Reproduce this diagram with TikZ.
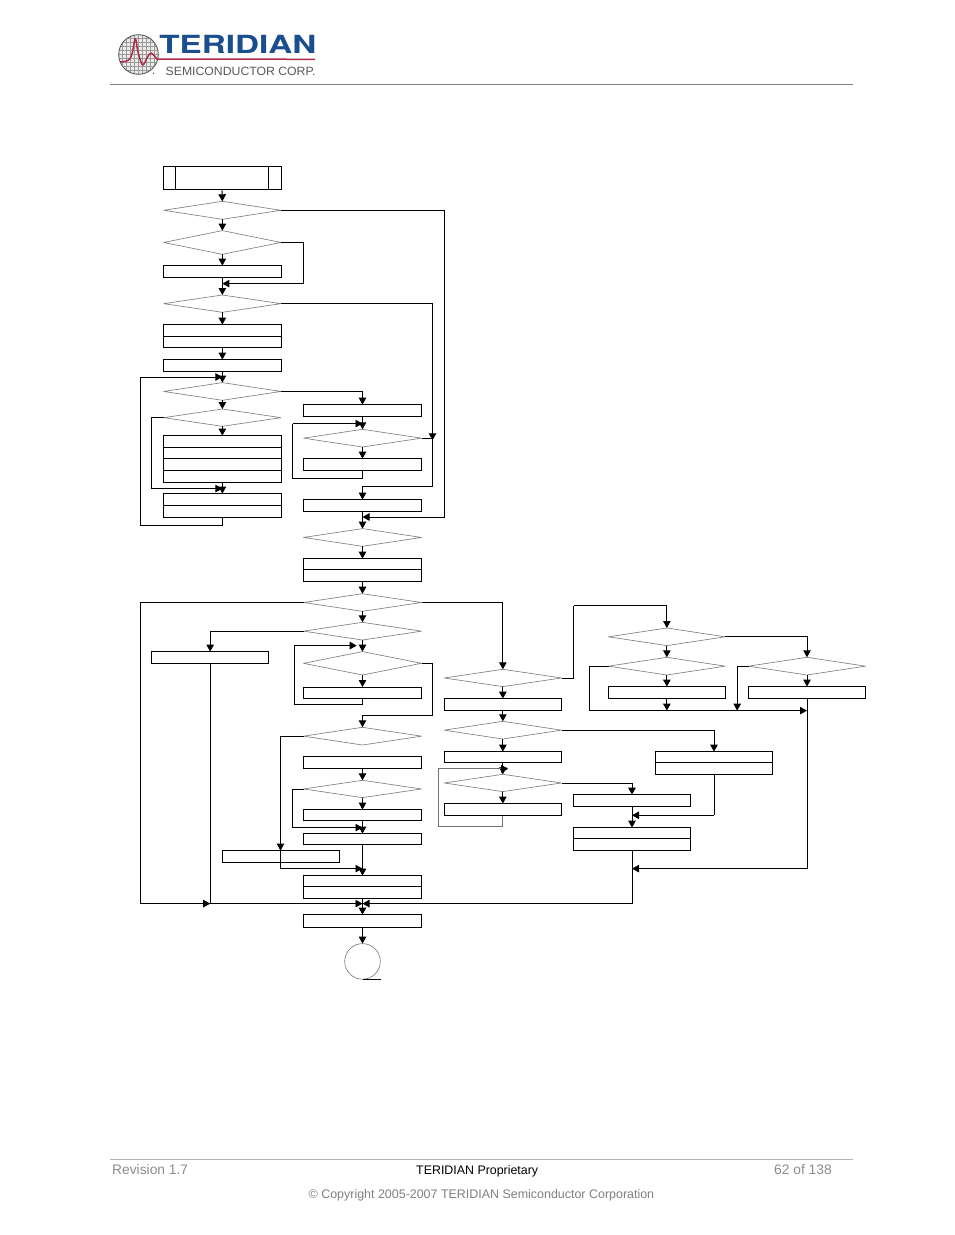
\documentclass[tikz,border=0pt]{standalone}
\usepackage{fontspec}
\setmainfont{Liberation Sans}
\newfontfamily\heros{TeX Gyre Heros}
\usetikzlibrary{shapes.geometric,arrows.meta}
\definecolor{tblue}{HTML}{1B4E8F}
\definecolor{tred}{HTML}{B22A4A}
\newcommand\bx[5]{\node[rbox,minimum width={(#4-#2)*1pt},minimum height={(#5-#3)*1pt}] (#1) at ({(#2+#4)/2},{(#3+#5)/2}) {};}
\newcommand\dm[5]{\node[dbox,minimum width={(#4-#2)*1pt},minimum height={(#5-#3)*1pt}] (#1) at ({(#2+#4)/2},{(#3+#5)/2}) {};}
\tikzset{
  rbox/.style={draw=black,line width=0.9pt,fill=white,rectangle,inner sep=0pt,outer sep=0pt},
  dbox/.style={draw=black!50,line width=0.65pt,line join=round,diamond,aspect=6.6,inner sep=0pt,outer sep=0pt},
  wire/.style={draw=black,line width=0.9pt},
  flow/.style={wire,-{Triangle[length=7pt,width=7.5pt]}},
  grayloop/.style={draw=black!55,line width=0.8pt},
  foot/.style={anchor=base west,font=\fontsize{13.8pt}{15pt}\selectfont,inner sep=0pt},
}
\begin{document}
\begin{tikzpicture}[x=1pt,y=-1pt]
\useasboundingbox (0,0) rectangle (954,1235);
\fill[white] (0,0) rectangle (954,1235);
% ---- header ----
\draw[black!50,line width=0.8pt] (110,84.5) -- (853,84.5);
\begin{scope}
  \clip (138.5,54.5) circle (19.5);
  \fill[black!8] (138.5,54.5) circle (19.5);
  \foreach \g in {118,122,...,160} {\draw[black!40,line width=0.5pt] (\g,30) -- (\g,80);}
  \foreach \g in {34,38,...,76} {\draw[black!40,line width=0.5pt] (115,\g) -- (160,\g);}
\end{scope}
\draw[black!65,line width=0.9pt] (138.5,54.5) circle (19.8);
\draw[tred,line width=1.5pt,line join=round] plot[smooth,tension=0.55] coordinates {(120,62) (128,60.5) (132,54) (135.3,38.5) (138,52) (142.5,65) (147,58) (151,53) (157,59)} -- (315,59.3);
\fill[black!70] (153.5,73.3) circle (0.7);
\node[anchor=base west,inner sep=0pt,text=tblue,xscale=1.33,font=\heros\bfseries\fontsize{25pt}{25pt}\selectfont] (logo) at (159,53) {TERIDIAN};
\node[anchor=base west,inner sep=0pt,text=black!65,xscale=1.02,font=\fontsize{12pt}{12pt}\selectfont] (corp) at (165.5,75) {SEMICONDUCTOR CORP.};
% ---- footer ----
\draw[black!30,line width=0.8pt] (110,1159.5) -- (853,1159.5);
\node[foot,text=black!45] (rev) at (112,1174) {Revision 1.7};
\node[foot,text=black,font=\fontsize{12.4pt}{14pt}\selectfont] (prop) at (416,1174) {TERIDIAN Proprietary};
\node[foot,text=black!45] (pg) at (774,1174) {62 of 138};
\node[foot,text=black!50,font=\fontsize{12.45pt}{14pt}\selectfont] (copy) at (308.5,1198) {© Copyright 2005-2007 TERIDIAN Semiconductor Corporation};
% ---- flowchart ----
\begin{scope}[shift={(0.2,0.3)}]
\def\La{163.5}\def\Lb{280.8}\def\Ca{303.3}\def\Cb{421.3}\def\Ra{444}\def\Rb{561.3}
% left column
\bx{ta}{\La}{166}{175.3}{189.3}\bx{tb}{175.3}{166}{268.3}{189.3}\bx{tc}{268.3}{166}{\Lb}{189.3}
\dm{da}{\La}{201}{\Lb}{219}
\dm{db}{\La}{230.3}{\Lb}{254}
\bx{ba}{\La}{265.3}{\Lb}{277.3}
\dm{dc}{\La}{294.7}{\Lb}{312}
\bx{bba}{\La}{324.3}{\Lb}{336.3}\bx{bbb}{\La}{336.3}{\Lb}{347.3}
\bx{bc}{\La}{359.3}{\Lb}{371.3}
\dm{dd}{\La}{382.3}{\Lb}{400}
\dm{de}{\La}{408.7}{\Lb}{426}
\bx{bda}{\La}{435.3}{\Lb}{447.3}\bx{bdb}{\La}{447.3}{\Lb}{458.3}\bx{bdc}{\La}{458.3}{\Lb}{470.3}\bx{bdd}{\La}{470.3}{\Lb}{482.3}
\bx{bea}{\La}{493.3}{\Lb}{505.3}\bx{beb}{\La}{505.3}{\Lb}{517.3}
% centre column
\bx{ca}{\Ca}{404.3}{\Cb}{416.3}
\dm{cd}{\Ca}{429}{\Cb}{446.7}
\bx{cb}{\Ca}{458.3}{\Cb}{470.3}
\bx{cc}{\Ca}{499.3}{\Cb}{511.3}
\dm{ce}{\Ca}{528.3}{\Cb}{546}
\bx{cfa}{\Ca}{558.3}{\Cb}{569.3}\bx{cfb}{\Ca}{569.3}{\Cb}{581.3}
\dm{cg}{\Ca}{593.4}{\Cb}{611}
\dm{ch}{\Ca}{622}{\Cb}{639.7}
\bx{lft}{151.3}{651.3}{268.7}{663.3}
\dm{ci}{\Ca}{651.3}{\Cb}{674.7}
\bx{cj}{\Ca}{686.7}{\Cb}{698.3}
\dm{ck}{\Ca}{727}{\Cb}{744.7}
\bx{cl}{\Ca}{756.3}{\Cb}{768.3}
\dm{cm}{\Ca}{780}{\Cb}{797.3}
\bx{cn}{\Ca}{809.3}{\Cb}{820.3}
\bx{co}{\Ca}{833.3}{\Cb}{844.3}
\bx{lfb}{222.3}{850.3}{339.7}{862.3}
\bx{cpa}{\Ca}{875.3}{\Cb}{886.3}\bx{cpb}{\Ca}{886.3}{\Cb}{898.3}
\bx{cq}{\Ca}{914.3}{\Cb}{926.7}
\node[circle,draw=black!50,line width=0.65pt,minimum size=35.6pt,inner sep=0pt,outer sep=0pt] (endc) at (362.3,961.1) {};
% third column
\dm{ra}{\Ra}{669}{\Rb}{686.3}
\bx{rb}{\Ra}{698.3}{\Rb}{710.3}
\dm{rc}{\Ra}{721}{\Rb}{738.7}
\bx{rd}{\Ra}{751.3}{\Rb}{762.3}
\dm{re}{\Ra}{774}{\Rb}{791.3}
\bx{rf}{\Ra}{803.3}{\Rb}{815.3}
% fourth column
\bx{sa}{573.3}{794.3}{690.3}{806.3}
\bx{sba}{573.3}{827.3}{690.3}{838.3}\bx{sbb}{573.3}{838.3}{690.3}{850.3}
\bx{tda}{655.3}{751.3}{772.3}{762.3}\bx{tdb}{655.3}{762.3}{772.3}{774.3}
% upper right
\dm{ua}{608.3}{627.7}{725}{645.3}
\dm{ub}{608.3}{657}{725}{674.7}
\bx{uc}{608.3}{686.3}{725}{698.3}
\dm{ud}{748.3}{657}{865.3}{674.7}
\bx{ue}{748.3}{686.3}{865.3}{698.3}
% way-points
\foreach \n/\x/\y in {
  a2/303.3/283.3,
  b2/444.3/516.7,
  c1/432.3/303.3, c2/432.3/440, c3/432.3/486.3,
  d2/140.3/525.3, d3/140.3/376.7,
  e2/151.3/488.3,
  g2/292.3/478.3, g3/292.3/423.3,
  h2/140.3/903.3, h3/210/903.3,
  j2/432.3/714.7,
  k2/294.3/704.3, k3/294.3/645.3, k4/356.5/645.3,
  l2/280.3/850.3, l3/280.3/868.3,
  m2/292.3/827.3,
  n2/573.3/605.3,
  o3/589.3/710.3, o7/737/710.3, o8/806.8/868.3,
  p2/713.8/815,
  r2/438.3/768.5, r3/438.3/826.3, r5/508/768.5}
  {\coordinate (\n) at (\x,\y);}
% left column flow
\draw[flow] (tb.south) -- (da.north);
\draw[flow] (da.south) -- (db.north);
\draw[flow] (db.south) -- (ba.north);
\draw[wire] (db.east) -| (a2);
\draw[flow] (a2) -- (ba.south |- a2);
\draw[flow] (ba.south) -- (dc.north);
\draw[flow] (dc.south) -- (bba.north);
\draw[flow] (bbb.south) -- (bc.north);
\draw[flow] (bc.south) -- (dd.north);
\draw[flow] (dd.south) -- (de.north);
\draw[flow] (de.south) -- (bda.north);
\draw[flow] (bdd.south) -- (bea.north);
\draw[flow] (beb.south) |- (d2) -- (d3) -- (bda.north |- d3);
\draw[flow] (de.west) -| (e2) -- (bda.south |- e2);
% exits to the right
\draw[flow] (da.east) -| (b2) -- (cc.south |- b2);
\draw[flow] (dc.east) -| (c2);
\draw[wire] (c2) -- (c3);
\draw[flow] (c3) -| (cc.north);
\draw[wire] (cd.east) -- (cd.east -| c2);
\draw[flow] (dd.east) -| (ca.north);
% centre column flow
\draw[flow] (ca.south) -- (cd.north);
\draw[flow] (cd.south) -- (cb.north);
\draw[wire] (cb.south) |- (g2) -- (g3);
\draw[flow] (g3) -- (ca.south |- g3);
\draw[flow] (cc.south) -- (ce.north);
\draw[flow] (ce.south) -- (cfa.north);
\draw[flow] (cfb.south) -- (cg.north);
\draw[flow] (cg.south) -- (ch.north);
\draw[flow] (ch.south) -- (ci.north);
\draw[flow] (ci.south) -- (cj.north);
\draw[flow] (cj.south) |- (k2) -- (k3) -- (k4);
\draw[wire] (ci.east) -| (j2);
\draw[flow] (j2) -| (ck.north);
\draw[flow] (ch.west) -| (lft.north);
\draw[flow] (cg.west) -| (h2) -- (h3);
\draw[wire] (lft.south) -- (lft.south |- h2);
\draw[flow] (cg.east) -| (ra.north);
\draw[flow] (ck.west) -| (l2);
\draw[wire] (l2) -- (l3);
\draw[flow] (l3) -- (co.south |- l3);
\draw[flow] (cl.south) -- (cm.north);
\draw[flow] (cm.south) -- (cn.north);
\draw[flow] (cm.west) -| (m2) -- (cn.south |- m2);
\draw[flow] (cn.south) -- (co.north);
\draw[flow] (co.south) -- (cpa.north);
\draw[flow] (cpb.south) -- (cq.north);
\draw[flow] (h3) -- (cq.north |- h3);
\draw[flow] (sbb.south |- h3) -- (cq.north |- h3);
\draw[wire] (sbb.south) -- (sbb.south |- h3);
\draw[flow] (cq.south) -- (endc.north);
\draw[wire] (endc.south) -- ++(18,0);
% third column
\draw[flow] (ra.south) -- (rb.north);
\draw[flow] (rb.south) -- (rc.north);
\draw[flow] (rc.south) -- (rd.north);
\draw[flow] (rd.south) -- (re.north);
\draw[flow] (re.south) -- (rf.north);
\draw[flow] (re.east) -| (sa.north);
\draw[flow] (rc.east) -| (tda.north);
\draw[wire] (tdb.south) -- (p2);
\draw[flow] (p2) -- (sa.south |- p2);
\draw[flow] (sa.south) -- (sba.north);
\draw[grayloop] (rf.south) |- (r3) -- (r2) -- (rd.south |- r2);
\draw[-{Triangle[length=7pt,width=7.5pt]},line width=0.9pt] (rd.south |- r2) -- (r5);
% upper right
\draw[wire] (ra.east) -| (n2);
\draw[flow] (n2) -| (ua.north);
\draw[flow] (ua.south) -- (ub.north);
\draw[flow] (ub.south) -- (uc.north);
\draw[flow] (uc.south) -- (uc.south |- o3);
\draw[flow] (ua.east) -| (ud.north);
\draw[flow] (ud.south) -- (ue.north);
\draw[flow] (ub.west) -| (o3) -- (ue.south |- o3);
\draw[flow] (ud.west) -| (o7);
\draw[wire] (ue.south) -- (o8);
\draw[flow] (o8) -- (sbb.south |- o8);
\end{scope}
\end{tikzpicture}
\end{document}
